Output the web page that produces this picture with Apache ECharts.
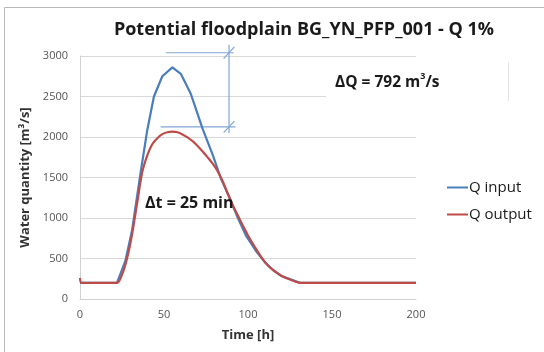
<!DOCTYPE html>
<html>
<head>
<meta charset="utf-8">
<script src="https://cdn.jsdelivr.net/npm/echarts@6/dist/echarts.min.js"></script>
<style>
  html, body { margin: 0; padding: 0; background: #fff; }
  #chart { width: 544px; height: 352px; }
</style>
</head>
<body>
<div id="chart"></div>
<script>
// 数据: 时间 [h] / 流量 [m3/s]
const inputTime = [0, 22, 27, 31, 36, 40, 44, 49, 55, 60, 66, 73, 79, 84, 89, 94, 99, 105, 110, 115, 120, 131, 200]
const inputQ = [200, 200, 470, 850, 1550, 2080, 2500, 2750, 2860, 2780, 2530, 2100, 1780, 1480, 1250, 1000, 775, 585, 455, 355, 284, 200, 200]

const outputTime = [0, 1, 22, 25, 28, 31, 34, 37, 40, 43, 46, 49, 52, 55, 58, 61, 64, 67, 70, 73, 76, 79, 82, 85, 88, 91, 94, 97, 100, 104, 108, 112, 116, 120, 125, 131, 200]
const outputQ = [260, 200, 200, 300, 500, 800, 1180, 1560, 1770, 1910, 1985, 2035, 2058, 2066, 2058, 2032, 1995, 1948, 1890, 1822, 1748, 1670, 1575, 1450, 1300, 1155, 1030, 905, 785, 645, 515, 410, 340, 285, 240, 200, 200]

const xTicks = [0, 50, 100, 150, 200]
const yTicks = [0, 500, 1000, 1500, 2000, 2500, 3000]

// ΔQ 标注 (数据坐标)
const peakTop = 3040
const peakBottom = 2125
const markX = 88.7

const zip = (xs, ys) => xs.map((x, i) => [x, ys[i]])

const noteStyle = { color: '#7fa6d6', width: 1.2 }
function noteSeries(points) {
  return {
    type: 'line',
    data: points,
    symbol: 'none',
    silent: true,
    clip: false,
    lineStyle: noteStyle,
    z: 1
  }
}

const myChart = echarts.init(document.getElementById('chart'))
const font = 'Open Sans, Liberation Sans, sans-serif'

const options = {
  animation: false,
  textStyle: { fontFamily: font },
  title: {
    text: 'Potential floodplain BG_YN_PFP_001 - Q 1%',
    left: 299,
    textAlign: 'center',
    top: 16,
    textStyle: { fontSize: 18, fontWeight: 'bold', color: '#1a1a1a', fontFamily: font }
  },
  grid: { left: 80, right: 128, top: 56, bottom: 53 },
  legend: {
    orient: 'vertical',
    left: 442,
    top: 175,
    itemWidth: 21,
    itemHeight: 2,
    itemGap: 12,
    icon: 'rect',
    textStyle: { fontSize: 15, color: '#1a1a1a', fontFamily: font, padding: [0, 0, 0, -4] },
    data: ['Q input', 'Q output']
  },
  xAxis: {
    type: 'value',
    min: xTicks[0],
    max: xTicks[xTicks.length - 1],
    interval: 50,
    name: 'Time [h]',
    nameLocation: 'middle',
    nameGap: 30,
    nameTextStyle: { fontSize: 13, fontWeight: 'bold', color: '#333' },
    axisLine: { lineStyle: { color: '#d0d0d0' } },
    axisTick: { show: false },
    axisLabel: { fontSize: 11, color: '#555', margin: 10, formatter: v => String(v) },
    splitLine: { show: false }
  },
  yAxis: {
    type: 'value',
    min: yTicks[0],
    max: yTicks[yTicks.length - 1],
    interval: 500,
    name: 'Water quantity [m³/s]',
    nameLocation: 'middle',
    nameGap: 46,
    nameTextStyle: { fontSize: 13, fontWeight: 'bold', color: '#333' },
    axisLine: { show: true, lineStyle: { color: '#d0d0d0' } },
    axisTick: { show: false },
    axisLabel: { fontSize: 11, color: '#555', margin: 12, formatter: v => String(v) },
    splitLine: { lineStyle: { color: '#d9d9d9' } }
  },
  graphic: [
    {
      type: 'rect',
      shape: { x: 4.5, y: 7.5, width: 560, height: 360 },
      style: { fill: 'none', stroke: '#b8b8b8', lineWidth: 1 },
      silent: true, z: -10
    },
    {
      type: 'rect',
      shape: { x: 326, y: 63, width: 182, height: 38 },
      style: { fill: '#fff' },
      silent: true, z: 50
    },
    {
      type: 'line',
      shape: { x1: 508.5, y1: 62, x2: 508.5, y2: 101 },
      style: { stroke: '#e3e3e3', lineWidth: 1 },
      silent: true, z: 51
    },
    {
      type: 'text',
      left: 335,
      top: 72,
      z: 52,
      style: {
        rich: {
          a: { fontSize: 15.5, fontWeight: 'bold', fontFamily: font, fill: '#1a1a1a' },
          sup: { fontSize: 9, fontWeight: 'bold', fontFamily: font, fill: '#1a1a1a', verticalAlign: 'top', padding: [0, 0, 12, 0] }
        },
        text: '{a|ΔQ = 792 m}{sup|3}{a|/s}'
      }
    },
    {
      type: 'text',
      left: 145,
      top: 195,
      z: 52,
      style: { text: 'Δt = 25 min', fontSize: 16, fontWeight: 'bold', fontFamily: font, fill: '#1a1a1a' }
    }
  ],
  series: [
    {
      name: 'Q input',
      type: 'line',
      data: zip(inputTime, inputQ),
      symbol: 'none',
      lineStyle: { color: '#4a7ebb', width: 2.2 },
      itemStyle: { color: '#4a7ebb' },
      z: 3
    },
    {
      name: 'Q output',
      type: 'line',
      data: zip(outputTime, outputQ),
      symbol: 'none',
      smooth: 0.3,
      lineStyle: { color: '#be4b48', width: 2.2 },
      itemStyle: { color: '#be4b48' },
      z: 4
    },
    noteSeries([[51, peakTop], [91.5, peakTop]]),
    noteSeries([[48, peakBottom], [92.5, peakBottom]]),
    noteSeries([[markX, 3140], [markX, 2050]]),
    noteSeries([[markX - 3.2, peakTop - 72], [markX + 3.2, peakTop + 72]]),
    noteSeries([[markX - 3.2, peakBottom - 72], [markX + 3.2, peakBottom + 72]])
  ]
}

myChart.setOption(options)
</script>
</body>
</html>
